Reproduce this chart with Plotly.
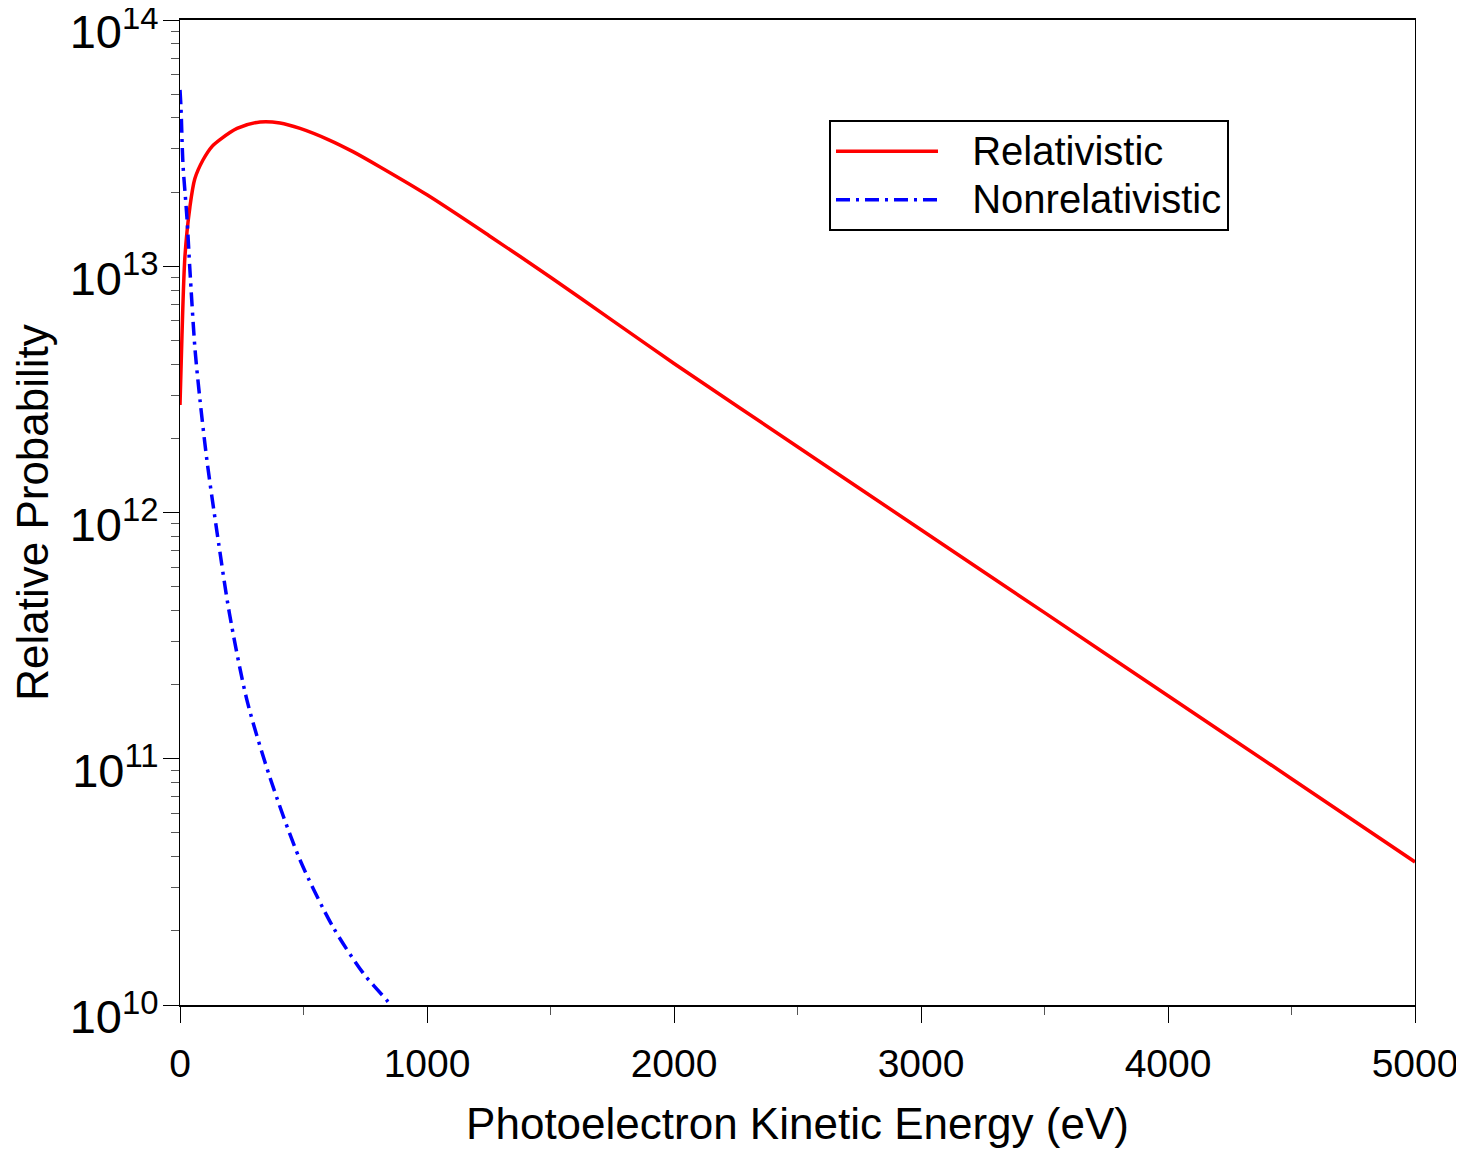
import plotly.graph_objects as go

# Relativistic curve
rel_energy = [0, 8, 20, 40, 60, 93, 130, 162, 231, 324, 405, 486, 600, 700, 810, 1000,
              1250, 1500, 1750, 2000, 2500, 3000, 3500, 4000, 4500, 5000]
rel_prob = [2.735e12, 5.25e12, 1.096e13, 1.738e13, 2.265e13, 2.70e13, 3.07e13, 3.27e13, 3.63e13,
            3.855e13, 3.82e13, 3.63e13, 3.27e13, 2.92e13, 2.53e13, 1.95e13,
            1.334e13, 9.02e12, 6.03e12, 4.03e12, 1.85e12, 8.51e11, 3.92e11, 1.803e11, 8.30e10, 3.81e10]

# Nonrelativistic curve
nonrel_energy = [0, 4, 12, 28, 40, 61, 81, 109, 150, 200, 271, 364, 486, 620, 741, 842, 900]
nonrel_prob = [5.2e13, 4.4e13, 2.6e13, 1.58e13, 9.7e12, 4.57e12, 2.86e12, 1.63e12, 8.3e11,
               3.9e11, 1.73e11, 8.4e10, 3.88e10, 2.07e10, 1.35e10, 1.03e10, 8.5e9]

x_ticks = [0, 1000, 2000, 3000, 4000, 5000]
y_ticks = [1e10, 1e11, 1e12, 1e13, 1e14]
y_tick_text = ["10<sup>10</sup>", "10<sup>11</sup>", "10<sup>12</sup>", "10<sup>13</sup>", "10<sup>14</sup>"]

series_names = ["Relativistic", "Nonrelativistic"]

FONT = "Arial, Liberation Sans, sans-serif"
NB = "\u00a0"


def legend_label(name):
    return NB * 3 + '<span style="font-size:40px">' + name + "</span>"


fig = go.Figure()
fig.add_trace(go.Scatter(
    x=rel_energy, y=rel_prob, mode="lines", name=legend_label(series_names[0]),
    line=dict(color="#ff0000", width=3.5, shape="spline", smoothing=0.8),
))
fig.add_trace(go.Scatter(
    x=nonrel_energy, y=nonrel_prob, mode="lines", name=legend_label(series_names[1]),
    line=dict(color="#0000ff", width=3.5, dash="14px,6px,3px,6px", shape="spline", smoothing=0.8),
))

# page body has an 8px margin, so the figure is made 8px smaller and margins shifted
fig.update_layout(
    width=1456, height=1141,
    margin=dict(l=172, r=49, t=12, b=144, autoexpand=False),
    paper_bgcolor="white", plot_bgcolor="white",
    font=dict(family=FONT, size=39, color="black"),
    showlegend=True,
    legend=dict(
        x=0.5255, y=0.8985, xanchor="left", yanchor="top",
        bordercolor="black", borderwidth=2, bgcolor="white",
        font=dict(family=FONT, size=35, color="black"),
        tracegroupgap=0, itemwidth=102,
    ),
)

fig.update_xaxes(
    range=[0, 5000], tickvals=x_ticks, ticktext=[str(v) for v in x_ticks],
    showgrid=False, zeroline=False, automargin=False,
    showline=True, linecolor="black", linewidth=2, mirror=True,
    ticks="outside", ticklen=16, tickwidth=1, tickcolor="black",
    ticklabelstandoff=7, ticklabeloverflow="allow",
    minor=dict(ticks="outside", ticklen=8, tickwidth=1, tickcolor="#555555", dtick=500, showgrid=False),
    tickfont=dict(family=FONT, size=39, color="black"),
    title=dict(text="Photoelectron Kinetic Energy (eV)", font=dict(family=FONT, size=44, color="black"), standoff=24),
)

fig.update_yaxes(
    type="log", range=[9.99999, 14.00001], tickvals=y_ticks, ticktext=y_tick_text,
    showgrid=False, zeroline=False, automargin=False,
    showline=True, linecolor="black", linewidth=1, mirror=True,
    ticks="outside", ticklen=16, tickwidth=1, tickcolor="black",
    ticklabeloverflow="allow", ticklabelshift=12, ticklabelstandoff=-5,
    minor=dict(ticks="outside", ticklen=8, tickwidth=1, tickcolor="#555555", dtick="D1", showgrid=False),
    tickfont=dict(family=FONT, size=47, color="black"),
    title=dict(text="Relative Probability", font=dict(family=FONT, size=44, color="black"), standoff=7),
)

fig.write_html("out.html")
